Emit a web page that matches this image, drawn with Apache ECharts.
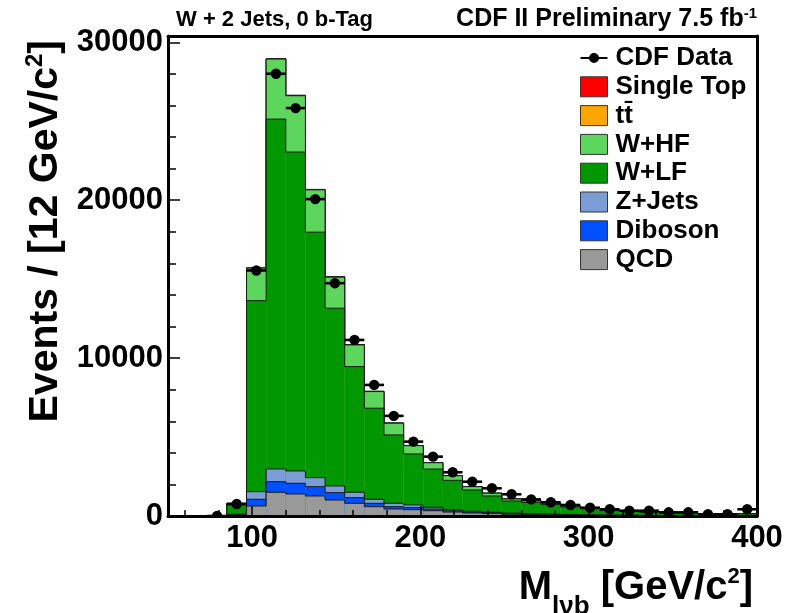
<!DOCTYPE html>
<html><head><meta charset="utf-8">
<script src="https://cdn.jsdelivr.net/npm/echarts@6/dist/echarts.min.js"></script>
<style>html,body{margin:0;padding:0;background:#fff}#c{width:792px;height:613px}</style>
</head><body><div id="c"></div>
<script>
// Histogram binning: 30 bins from 50 to 400 GeV/c^2
const xMin = 50, xMax = 400, nBins = 30;
const xMajorTicks = [100, 200, 300, 400];
const xMinorTicks = [60, 80, 120, 140, 160, 180, 220, 240, 260, 280, 320, 340, 360, 380];
const yMajorTicks = [0, 10000, 20000, 30000];
const yMinorTicks = [2000, 4000, 6000, 8000, 12000, 14000, 16000, 18000, 22000, 24000, 26000, 28000];

// stack components, bottom to top
const qcd     = [0,0,0,60,634,1502,1394,1267,1014,805,590,444,400,336,250,190,150,110,90,70,55,45,35,30,25,20,15,12,10,10];
const diboson = [0,0,0,20,424,672,678,590,463,355,215,146,130,108,80,60,50,40,32,26,20,16,13,10,8,7,6,5,4,4];
const zjets   = [0,0,0,30,482,804,780,570,424,342,253,215,170,110,70,50,40,32,26,20,16,12,10,8,7,6,5,4,4,4];
const wlf     = [0,0,0,600,12100,22160,20200,15550,11260,7960,5770,4330,3230,2420,1860,1350,1030,770,712,609,480,384,284,237,188,155,128,110,96,117];
const whf     = [0,0,0,90,2060,3800,3565,2680,1965,1374,1053,741,526,400,292,209,171,127,100,80,63,50,38,32,25,21,17,15,13,15];
const ttbar   = [0,0,0,0,8,15,18,18,16,14,12,10,8,7,6,5,4,4,3,3,2,2,2,1,1,1,1,1,1,1];
const singleTop = [0,0,0,0,5,10,12,11,10,8,7,6,5,4,3,3,2,2,2,1,1,1,1,1,1,1,0,0,0,0];
const cdfData = [null,null,0,760,15550,28010,25835,20070,14745,11150,8300,6340,4710,3760,2770,2170,1755,1375,1050,868,697,526,425,336,336,234,234,108,108,425];

const FONT = "'Liberation Sans', Arial, Helvetica, sans-serif";
const edges = [];
for (let i = 0; i <= nBins; i++) edges.push(xMin + (xMax - xMin) * i / nBins);

const layers = [
  {name: 'QCD', vals: qcd, color: '#999999'},
  {name: 'Diboson', vals: diboson, color: '#0050ff'},
  {name: 'Z+Jets', vals: zjets, color: '#7b9dd6'},
  {name: 'W+LF', vals: wlf, color: '#009700'},
  {name: 'W+HF', vals: whf, color: '#5cd65c'},
  {name: 'tt\u0304', vals: ttbar, color: '#ffa500'},
  {name: 'Single Top', vals: singleTop, color: '#ff0000'}
];
let run = new Array(nBins).fill(0);
layers.forEach(l => { run = run.map((v, i) => v + l.vals[i]); l.cum = run.slice(); });

function makeStackSeries(l) {
  const data = l.cum.map((v, i) => [i, v, i > 0 ? l.cum[i - 1] : 0]);
  return {
    type: 'custom', name: l.name, clip: true,
    itemStyle: {color: l.color, borderColor: '#000', borderWidth: 1},
    data: data,
    renderItem: function (params, api) {
      const i = api.value(0), top = api.value(1), prev = api.value(2);
      const x0 = edges[i], x1 = edges[i + 1];
      const pBL = api.coord([x0, 0]);
      const pTR = api.coord([x1, top]);
      const pPrev = api.coord([x0, prev]);
      const ch = [];
      if (top > 0) ch.push({type: 'rect', shape: {x: pBL[0], y: pTR[1], width: pTR[0] - pBL[0], height: pBL[1] - pTR[1]}, style: {fill: l.color}});
      if (top > 0 || prev > 0) {
        const pts = [[pBL[0], pPrev[1]], [pBL[0], pTR[1]], [pTR[0], pTR[1]]];
        if (i === nBins - 1) pts.push([pTR[0], pBL[1]]);
        ch.push({type: 'polyline', shape: {points: pts}, style: {stroke: '#1a1a1a', lineWidth: 1, fill: null}});
      }
      return {type: 'group', children: ch};
    }
  };
}

const series = layers.slice().reverse().map(makeStackSeries);
series.push({
  type: 'custom', name: 'CDF Data', clip: true,
  itemStyle: {color: '#000'},
  data: cdfData.map((v, i) => v === null ? null : [i, v]).filter(d => d !== null),
  renderItem: function (params, api) {
    const i = api.value(0), v = api.value(1);
    const pa = api.coord([edges[i], v]);
    const pb = api.coord([edges[i + 1], v]);
    const pc = api.coord([(edges[i] + edges[i + 1]) / 2, v]);
    return {type: 'group', children: [
      {type: 'line', shape: {x1: pa[0], y1: pa[1], x2: pb[0], y2: pb[1]}, style: {stroke: '#000', lineWidth: 2.6}},
      {type: 'circle', shape: {cx: pc[0], cy: pc[1], r: 5.2}, style: {fill: '#000'}}
    ]};
  }
});

const dataIcon = 'path://M0,4 L8.6,4 L8.6,6 L0,6 Z M18.4,4 L27,4 L27,6 L18.4,6 Z M18.5,5 A5,5 0 1 1 8.5,5 A5,5 0 1 1 18.5,5 Z';
const legendData = [{name: 'CDF Data', icon: dataIcon, itemStyle: {color: '#000', borderWidth: 0}}];
layers.slice().reverse().forEach(l => legendData.push({name: l.name, icon: 'rect', itemStyle: {color: l.color, borderColor: '#333', borderWidth: 1}}));

const labelStyle = {color: '#000', fontSize: 31, fontWeight: 'bold', fontFamily: FONT};
const gridBox = {left: 168, right: 35, top: 36, bottom: 97};

const option = {
  animation: false,
  backgroundColor: '#fff',
  grid: Object.assign({containLabel: false}, gridBox),
  xAxis: [
    {type: 'value', min: xMin, max: xMax, position: 'bottom', z: 5,
     axisLine: {show: true, onZero: false, lineStyle: {color: '#000', width: 3}},
     axisTick: {show: true, inside: true, length: 10, customValues: xMajorTicks, lineStyle: {color: '#000', width: 1.5}},
     axisLabel: Object.assign({customValues: xMajorTicks, margin: 7, formatter: v => String(v)}, labelStyle),
     splitLine: {show: false}},
    {type: 'value', min: xMin, max: xMax, position: 'bottom', z: 5,
     axisLine: {show: false},
     axisTick: {show: true, inside: true, length: 6, customValues: xMinorTicks, lineStyle: {color: '#000', width: 1.5}},
     axisLabel: {show: false}, splitLine: {show: false}},
    {type: 'value', min: xMin, max: xMax, position: 'top', z: 5,
     axisLine: {show: true, onZero: false, lineStyle: {color: '#000', width: 3}},
     axisTick: {show: false}, axisLabel: {show: false}, splitLine: {show: false}}
  ],
  yAxis: [
    {type: 'value', min: 0, max: 30400, position: 'left', z: 5,
     axisLine: {show: true, onZero: false, lineStyle: {color: '#000', width: 3}},
     axisTick: {show: true, inside: true, length: 12, customValues: yMajorTicks, lineStyle: {color: '#000', width: 1.5}},
     axisLabel: Object.assign({customValues: yMajorTicks, margin: 5, formatter: v => String(v)}, labelStyle),
     splitLine: {show: false}},
    {type: 'value', min: 0, max: 30400, position: 'left', z: 5,
     axisLine: {show: false},
     axisTick: {show: true, inside: true, length: 8, customValues: yMinorTicks, lineStyle: {color: '#000', width: 1.5}},
     axisLabel: {show: false}, splitLine: {show: false}},
    {type: 'value', min: 0, max: 30400, position: 'right', z: 5,
     axisLine: {show: true, onZero: false, lineStyle: {color: '#000', width: 3}},
     axisTick: {show: false}, axisLabel: {show: false}, splitLine: {show: false}}
  ],
  legend: {
    orient: 'vertical', left: 575, top: 40, itemWidth: 27, itemHeight: 20, itemGap: 2.8,
    selectedMode: false, symbolKeepAspect: true,
    textStyle: {color: '#000', fontSize: 26, fontWeight: 'bold', fontFamily: FONT, padding: [0, 0, 0, 3]},
    data: legendData
  },
  graphic: [
    {type: 'text', x: 46, y: 40, rotation: Math.PI / 2, z: 10,
     style: {text: 'Events / [12 GeV/c{sup|2}]', fill: '#000', font: 'bold 41px ' + FONT, align: 'right', verticalAlign: 'middle',
       rich: {sup: {fontSize: 24, fontWeight: 'bold', fontFamily: FONT, verticalAlign: 'top', lineHeight: 46}}}},
    {type: 'text', x: 753, y: 588, z: 10,
     style: {text: 'M{sub|l\u03bdb} [GeV/c{sup|2}]', fill: '#000', font: 'bold 40px ' + FONT, align: 'right', verticalAlign: 'middle', lineHeight: 44,
       rich: {sub: {fontSize: 26, fontWeight: 'bold', fontFamily: FONT, verticalAlign: 'bottom', lineHeight: 30, padding: [0, 0, -10, 0]},
              sup: {fontSize: 22, fontWeight: 'bold', fontFamily: FONT, verticalAlign: 'top', lineHeight: 22}}}},
    {type: 'text', x: 176, y: 20, z: 10,
     style: {text: 'W + 2 Jets, 0 b-Tag', fill: '#000', font: 'bold 22px ' + FONT, align: 'left', verticalAlign: 'middle'}},
    {type: 'text', x: 757, y: 19, z: 10,
     style: {text: 'CDF II Preliminary 7.5 fb{sup|-1}', fill: '#000', font: 'bold 25px ' + FONT, align: 'right', verticalAlign: 'middle',
       rich: {sup: {fontSize: 15, fontWeight: 'bold', fontFamily: FONT, verticalAlign: 'top', lineHeight: 25}}}}
  ],
  series: series
};
const chart = echarts.init(document.getElementById('c'), null, {renderer: 'canvas'});
chart.setOption(option);
</script></body></html>
